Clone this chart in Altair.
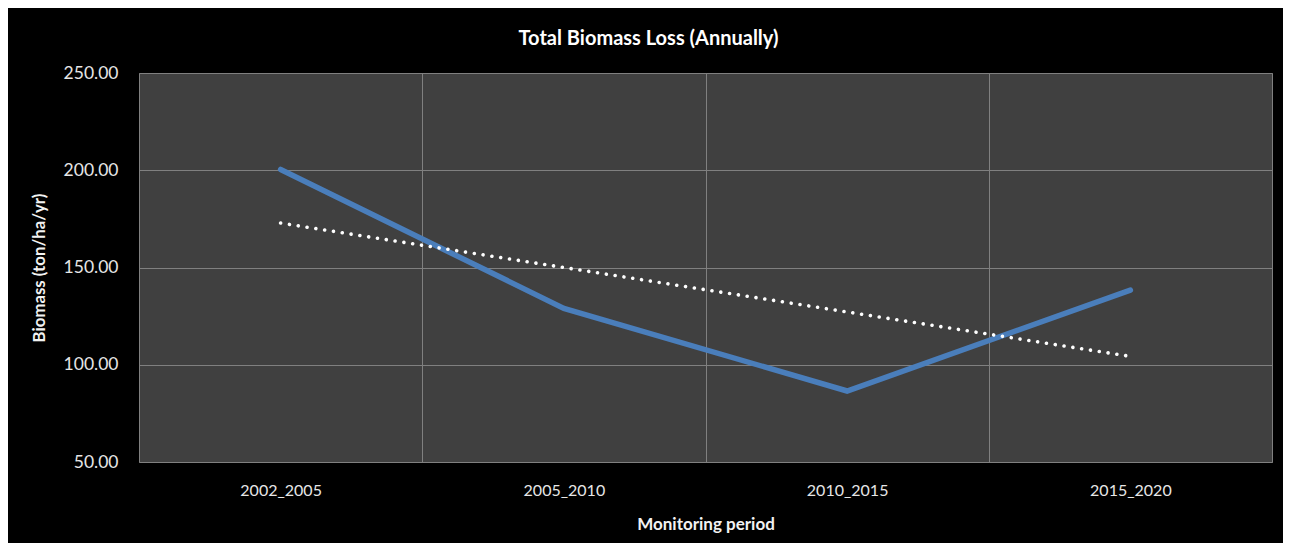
import altair as alt
import pandas as pd

periods = ["2002_2005", "2005_2010", "2010_2015", "2015_2020"]
biomass = [200.4, 129.0, 86.5, 138.4]
y_ticks = [50, 100, 150, 200, 250]

df = pd.DataFrame({"idx": list(range(1, len(periods) + 1)), "period": periods, "value": biomass})

label_list = "[" + ",".join("'" + p + "'" for p in periods) + "]"
label_expr = f"datum.value % 1 === 0 ? {label_list}[datum.value - 1] : ''"
x_vals = [v / 2 for v in range(2, 2 * len(periods) + 1)]

FONT = "Lato"
LABEL_COLOR = "#e6e6e6"
GRID = "#808080"

x_enc = alt.X(
    "idx:Q",
    scale=alt.Scale(domain=[0.5, len(periods) + 0.5], nice=False, zero=False),
    axis=alt.Axis(
        title="Monitoring period",
        values=x_vals,
        labelExpr=label_expr,
        ticks=False,
        tickSize=0,
        domain=False,
        grid=True,
        gridColor=GRID,
        gridOpacity={"condition": {"test": "datum.value % 1 === 0", "value": 0}, "value": 1},
        labelPadding=20,
        labelFontSize=16,
        labelColor=LABEL_COLOR,
        labelFont=FONT,
        titleFont=FONT,
        titleFontSize=17,
        titleFontWeight="bold",
        titleColor="#f2f2f2",
        titleY=54,
    ),
)

y_enc = alt.Y(
    "value:Q",
    scale=alt.Scale(domain=[50, 250], nice=False, zero=False),
    axis=alt.Axis(
        title="Biomass (ton/ha/yr)",
        values=y_ticks,
        format=".2f",
        ticks=False,
        tickSize=0,
        domain=False,
        grid=True,
        gridColor=GRID,
        labelPadding=21,
        labelFontSize=17.5,
        labelColor=LABEL_COLOR,
        labelFont=FONT,
        titleFont=FONT,
        titleFontSize=16.8,
        titleFontWeight="bold",
        titleColor="#f2f2f2",
        titleX=-91,
    ),
)

line = alt.Chart(df).mark_line(
    color="#4a7ebb", strokeWidth=5.5, strokeCap="round", strokeJoin="miter"
).encode(x=x_enc, y=y_enc)

trend = alt.Chart(df).transform_regression(
    "idx", "value", method="linear"
).mark_line(
    color="#ffffff", strokeWidth=3.6, strokeCap="round", strokeDash=[0.01, 8.9]
).encode(x="idx:Q", y="value:Q")

chart = alt.layer(line, trend).properties(
    width=1133,
    height=389,
    background="#000000",
    padding={"left": 131, "top": 65, "right": 11, "bottom": 81},
    autosize=alt.AutoSizeParams(type="none"),
    title=alt.TitleParams(
        "Total Biomass Loss (Annually)",
        font=FONT,
        fontSize=20,
        fontWeight="bold",
        color="#ffffff",
        anchor="middle",
        dx=-57,
        offset=15,
    ),
).configure_view(
    fill="#404040", stroke=GRID, strokeWidth=1
)

chart.save("out.html", embed_options={"renderer": "svg", "actions": False})
